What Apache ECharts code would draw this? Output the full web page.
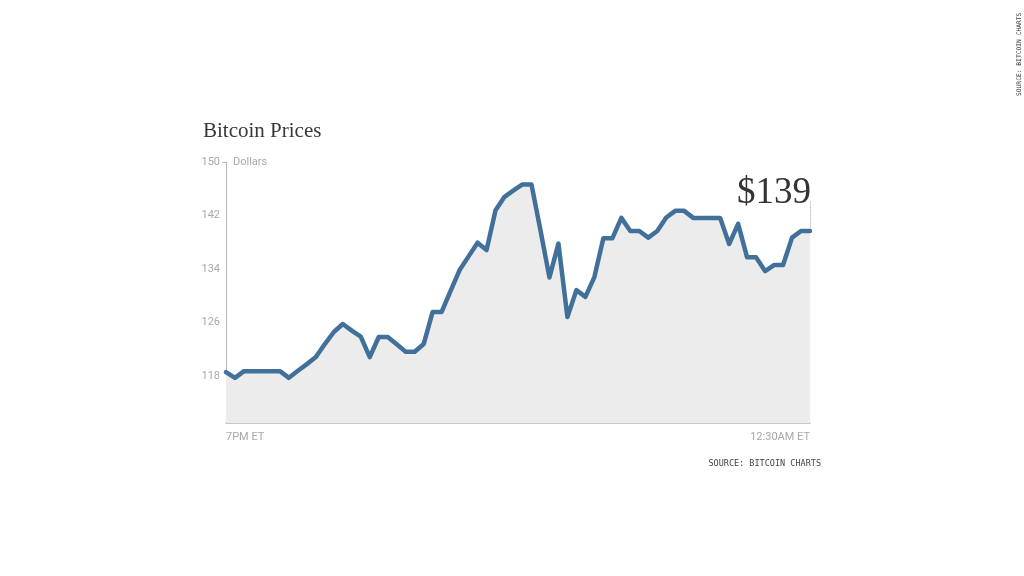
<!DOCTYPE html>
<html>
<head>
<meta charset="utf-8">
<script src="https://cdn.jsdelivr.net/npm/echarts@6/dist/echarts.min.js"></script>
<style>
html,body{margin:0;padding:0;background:#fff;}
#chart{width:1024px;height:576px;}
</style>
</head>
<body>
<div id="chart"></div>
<script>
// Bitcoin price, roughly every 5 minutes from 7PM ET to 12:30AM ET
const prices = [
  118.6, 117.75, 118.75, 118.75, 118.75, 118.75, 118.75, 117.75, 118.8, 119.8,
  120.85, 122.8, 124.6, 125.8, 124.8, 123.9, 120.85, 123.85, 123.85, 122.75,
  121.65, 121.65, 122.8, 127.6, 127.6, 130.75, 133.85, 135.9, 137.95, 136.85,
  142.8, 144.8, 145.75, 146.65, 146.65, 139.8, 132.75, 137.8, 126.85, 130.85,
  129.85, 132.8, 138.6, 138.6, 141.65, 139.7, 139.7, 138.7, 139.7, 141.7,
  142.7, 142.7, 141.65, 141.65, 141.65, 141.65, 137.75, 140.75, 135.75, 135.75,
  133.7, 134.6, 134.6, 138.7, 139.7, 139.7
];
const categories = prices.map((_, i) => String(i));
const xTickLabels = ['7PM ET', '12:30AM ET'];
const yTickValues = [118, 126, 134, 142, 150];
const yMin = 111, yMax = 150;
const lastLabel = '$139';
const titleText = 'Bitcoin Prices';
const sourceText = 'SOURCE: BITCOIN CHARTS';
const yName = 'Dollars';

const lastIdx = prices.length - 1;
const narrow = 'Liberation Sans Narrow, Roboto, sans-serif';
const chart = echarts.init(document.getElementById('chart'), null, {renderer: 'canvas'});
chart.setOption({
  animation: false,
  backgroundColor: '#ffffff',
  title: [
    {text: titleText, left: 198, top: 116,
     textStyle: {fontFamily: 'Liberation Serif', fontSize: 21, fontWeight: 'normal', color: '#383838'}},
    {text: sourceText, right: 198, top: 454,
     textStyle: {fontFamily: 'DejaVu Sans Mono', fontSize: 8.5, fontWeight: 'normal', color: '#444444'}}
  ],
  graphic: [
    {type: 'text', x: 1016, y: 96, rotation: Math.PI / 2,
     style: {text: sourceText, font: '6.3px "DejaVu Sans Mono"', fill: '#333333'}}
  ],
  grid: {left: 226, right: 214, top: 162, bottom: 153, containLabel: false},
  xAxis: {
    type: 'category',
    data: categories,
    boundaryGap: false,
    axisLine: {show: true, lineStyle: {color: '#b5b5b5', width: 1.5}},
    axisTick: {show: false},
    axisLabel: {
      show: true,
      interval: (i) => i === 0 || i === lastIdx,
      formatter: (v, i) => i === 0 ? xTickLabels[0] : (i === lastIdx ? xTickLabels[1] : ''),
      alignMinLabel: 'left',
      alignMaxLabel: 'right',
      margin: 9,
      color: '#a8a8a8',
      fontFamily: narrow,
      fontSize: 11
    },
    splitLine: {show: false}
  },
  yAxis: {
    type: 'value',
    min: yMin,
    max: yMax,
    name: yName,
    nameLocation: 'end',
    nameGap: 0,
    nameTextStyle: {align: 'left', verticalAlign: 'middle', padding: [0, 0, 0, 7],
      color: '#a8a8a8', fontFamily: narrow, fontSize: 11},
    axisLine: {show: true, lineStyle: {color: '#b5b5b5', width: 1}},
    axisTick: {show: true, customValues: [yMax], length: 4, lineStyle: {color: '#b5b5b5'}},
    axisLabel: {
      show: true,
      customValues: yTickValues,
      margin: 6,
      color: '#a8a8a8',
      fontFamily: narrow,
      fontSize: 11
    },
    splitLine: {show: false}
  },
  series: [{
    type: 'line',
    data: prices,
    symbol: 'none',
    smooth: false,
    lineStyle: {color: '#41709a', width: 4.5, join: 'round', cap: 'round'},
    areaStyle: {color: '#ececec', opacity: 1, origin: 'start'},
    markLine: {
      silent: true,
      symbol: 'none',
      label: {show: false},
      lineStyle: {color: '#aaaaaa', type: 'dotted', width: 1},
      data: [[{coord: [lastIdx, prices[lastIdx] + 0.4]}, {coord: [lastIdx, 144.3]}]]
    },
    markPoint: {
      silent: true,
      symbol: 'circle',
      symbolSize: 0,
      data: [{coord: [lastIdx, prices[lastIdx]]}],
      label: {
        show: true,
        formatter: lastLabel,
        position: 'inside',
        align: 'right',
        verticalAlign: 'bottom',
        offset: [1, -19],
        fontFamily: 'Liberation Serif',
        fontSize: 37,
        color: '#333333'
      }
    }
  }]
});
</script>
</body>
</html>
